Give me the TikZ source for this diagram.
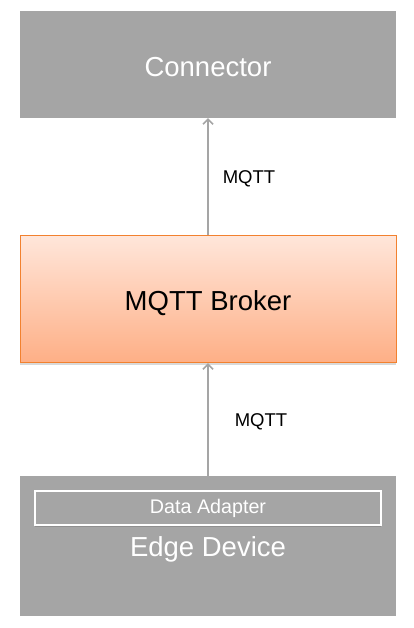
\documentclass[tikz,border=0pt]{standalone}
\usepackage{fontspec}
\setmainfont{Liberation Sans}
\usepackage{xcolor}
\usetikzlibrary{arrows.meta,positioning,shadows}
\definecolor{boxgray}{HTML}{A5A5A5}
\definecolor{brokertop}{HTML}{FFE6DA}
\definecolor{brokerbot}{HTML}{FEAF86}
\definecolor{brokerline}{HTML}{F2812F}

\begin{document}
\begin{tikzpicture}[
    x=1pt, y=1pt,
    node distance=117pt,
    block/.style={fill=boxgray, text=white, align=center, minimum width=376pt, inner sep=0pt, text depth=0pt, font=\fontsize{27.5}{32}\selectfont},
    broker/.style={draw=brokerline, line width=1pt, top color=brokertop, bottom color=brokerbot, minimum width=376pt, minimum height=127pt, inner sep=0pt, text depth=0pt, text height=22.5pt, font=\fontsize{27.5}{32}\selectfont,
        drop shadow={shadow xshift=0pt, shadow yshift=-2pt, opacity=0.25, fill=black!60}},
    adapter/.style={draw=white, line width=2pt, fill=boxgray, text=white, minimum width=346pt, minimum height=34pt, inner sep=0pt, font=\fontsize{19.7}{23}\selectfont,
        drop shadow={shadow xshift=0pt, shadow yshift=-2pt, opacity=0.35, fill=black!60}},
    line/.style={-{Straight Barb[length=5pt, width=10pt]}, draw=boxgray, line width=1.5pt},
    lbl/.style={font=\fontsize{18.5}{22}\selectfont, inner sep=0pt, yshift=-2pt}
]
\useasboundingbox (0,0) rectangle (413,628);
\node[block, minimum height=107pt, text height=24.5pt] (conn) at (208,563.5) {Connector};
\node[broker, below=117pt of conn] (broker) {MQTT Broker};
\node[block, minimum height=140pt, text height=20.5pt, below=113pt of broker] (edge) {Edge Device};
\node[adapter, below=14pt of edge.north] (adapt) {Data Adapter};

\draw[line] (broker) -- node[lbl, right=14pt] {MQTT} (conn);
\draw[line] (edge) -- node[lbl, right=26pt] {MQTT} (broker);
\end{tikzpicture}
\end{document}
